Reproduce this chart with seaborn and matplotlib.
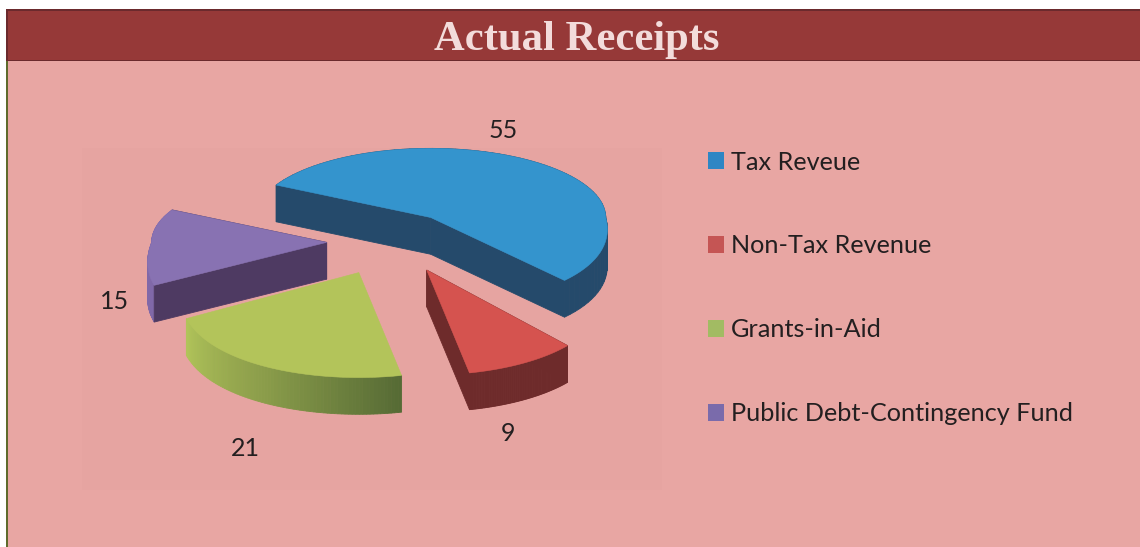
import numpy as np
import matplotlib
matplotlib.use("Agg")
import matplotlib.pyplot as plt
from matplotlib.patches import Rectangle, Patch
import seaborn as sns

categories = ["Tax Reveue", "Non-Tax Revenue", "Grants-in-Aid", "Public Debt-Contingency Fund"]
values = [55, 9, 21, 15]
title = "Actual Receipts"

top_colors = ["#3494cd", "#d5534f", "#b3c45a", "#8872b2"]
legend_colors = ["#2e86c4", "#c55554", "#a2bb63", "#7a6bab"]
cut_colors = ["#254a6b", "#6e2b2b", None, "#4e3a62"]
arc_palettes = [["#254a6b"], ["#6e2b2b"], ["#566b35", "#8a9c4a", "#b0c459"], ["#8068a8"]]
label_positions = [(0.646, 0.652), (0.674, -1.077), (-0.829, -1.165), (-1.577, -0.325)]

sns.set_theme(style="white")
plt.rcParams["font.family"] = ["Lato", "DejaVu Sans"]

W, H, R_PX = 1140, 547, 175
CX, CY = 390, 245
START = 152.0
EXPLODE = 0.39
EXPLODE_SQUASH = 0.45
BACK = 0.395
FRONT = [0.50, 0.60, 0.60, 0.56]
PERSPECTIVE = [0.14, 0.22, 0.22, 0.22]
NUDGE = [(-0.002, 0.017), (0.028, 0.012), (-0.006, 0.0), (0.028, 0.012)]
DEPTH = 0.21

fig = plt.figure(figsize=(W / 100, H / 100), dpi=100, facecolor="white")
ax = fig.add_axes([0, 0, 1, 1])
ax.set_xlim(-CX / R_PX, (W - CX) / R_PX)
ax.set_ylim((CY - H) / R_PX, CY / R_PX)
ax.axis("off")


def px_rect(x0, y0, x1, y1, **kw):
    ax.add_patch(Rectangle((x0 / W, 1 - y1 / H), (x1 - x0) / W, (y1 - y0) / H,
                           transform=ax.transAxes, lw=0, **kw))


px_rect(7, 60, W, H, color="#e8a6a3", zorder=0)
px_rect(82, 148, 662, 490, color="#e6a4a1", zorder=0.5)
px_rect(6, 60, 8, H, color="#5f6b2c", zorder=1)
px_rect(6, 9, W, 61, color="#6b2a2d", zorder=1)
px_rect(8, 11, W, 60, color="#963938", zorder=1.1)
ax.text((435 + 718) / 2 / W, 1 - 40 / H, title, transform=ax.transAxes, ha="center", va="center",
        family="Liberation Serif", weight="bold", fontsize=30.7, color="#f3dcdb", zorder=2)


def project(theta, front, persp):
    t = np.radians(theta)
    s = np.sin(t)
    x = np.cos(t) * (1 + persp * np.clip(-s, 0, 1))
    return x, s * np.where(s > 0, BACK, front)


# angular spans from the values, clockwise from START
edges = START - np.concatenate([[0], np.cumsum(values)]) * 360.0 / np.sum(values)
slices = []
for i, v in enumerate(values):
    a0, a1 = edges[i], edges[i + 1]
    mid = np.radians((a0 + a1) / 2)
    ox = EXPLODE * np.cos(mid) + NUDGE[i][0]
    oy = EXPLODE * np.sin(mid) * EXPLODE_SQUASH + NUDGE[i][1]
    th = np.linspace(a0, a1, 80)
    px, py = project(th, FRONT[i], PERSPECTIVE[i])
    slices.append((i, ox, oy, px + ox, py + oy))

for i, ox, oy, ax_x, ax_y in [slices[j] for j in (0, 3, 2, 1)]:
    z = 3 + {0: 0, 3: 1, 2: 2, 1: 3}[i]
    # curved outer wall
    n = len(ax_x) - 1
    blended = sns.blend_palette(arc_palettes[i] * (2 if len(arc_palettes[i]) == 1 else 1), n)
    for k in range(n):
        ax.fill([ax_x[k], ax_x[k + 1], ax_x[k + 1], ax_x[k]],
                [ax_y[k], ax_y[k + 1], ax_y[k + 1] - DEPTH, ax_y[k] - DEPTH],
                color=blended[k], lw=0.6, zorder=z)
    # flat cut walls
    if cut_colors[i]:
        for ex, ey in ((ax_x[0], ax_y[0]), (ax_x[-1], ax_y[-1])):
            ax.fill([ox, ex, ex, ox], [oy, ey, ey - DEPTH, oy - DEPTH],
                    color=cut_colors[i], lw=0.6, zorder=z + 0.1)
    # top face
    ax.fill(np.r_[ox, ax_x], np.r_[oy, ax_y], color=top_colors[i], lw=0.4, zorder=z + 0.2)
    ax.text(label_positions[i][0], label_positions[i][1], str(values[i]), ha="center", va="center",
            fontsize=18, color="#231f20", zorder=10)

handles = [Patch(facecolor=c, edgecolor="none") for c in legend_colors]
leg = ax.legend(handles, categories, loc="upper left",
                bbox_to_anchor=(708 / W, 1 - 150.5 / H), frameon=False,
                fontsize=18.2, labelcolor="#231f20", labelspacing=2.41,
                handlelength=0.63, handleheight=0.63, handletextpad=0.28,
                borderaxespad=0, borderpad=0)
leg.set_zorder(10)

fig.savefig("out.png", dpi=100, facecolor="white")
